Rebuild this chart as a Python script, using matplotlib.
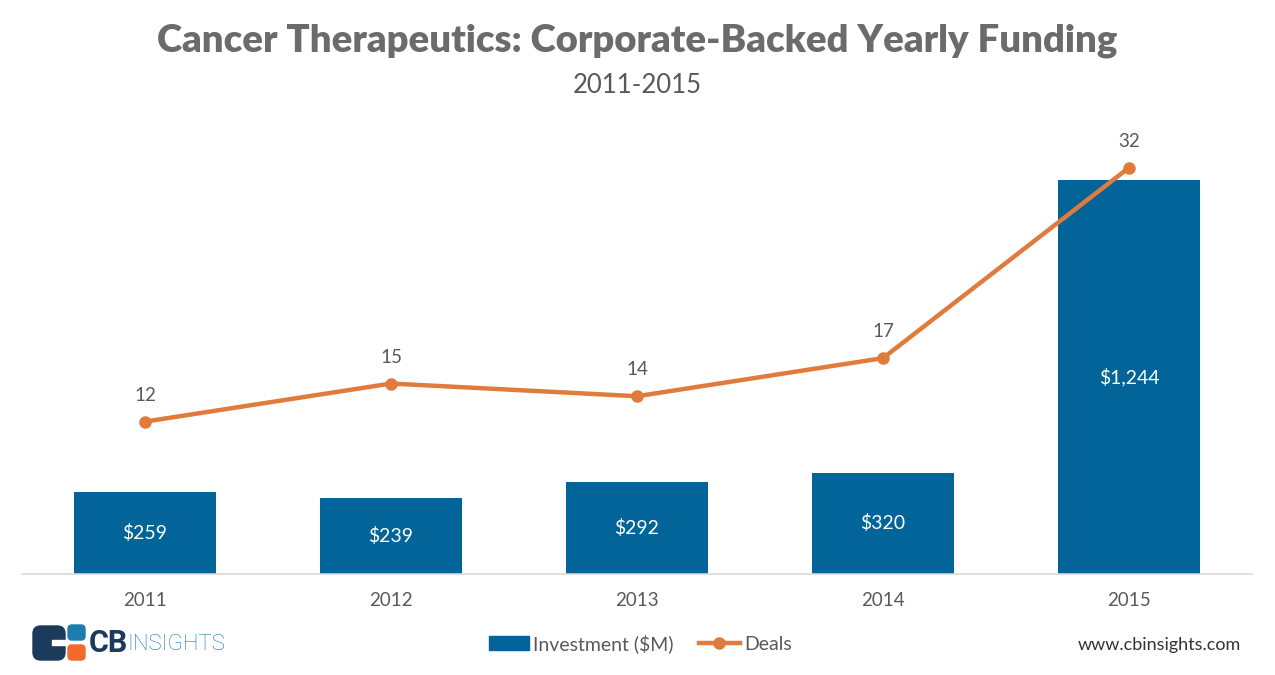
import matplotlib.pyplot as plt
from matplotlib.patches import FancyBboxPatch, Rectangle
from matplotlib.lines import Line2D
from matplotlib.patches import Patch

years = ['2011', '2012', '2013', '2014', '2015']
investment = [259, 239, 292, 320, 1244]
deals = [12, 15, 14, 17, 32]

BAR_COLOR = '#026498'
LINE_COLOR = '#E07B3C'
TEXT_GRAY = '#595959'
TITLE_GRAY = '#6B6B6B'

plt.rcParams['font.family'] = ['Lato', 'DejaVu Sans']

fig = plt.figure(figsize=(12.75, 6.75), dpi=100)
ax = fig.add_axes([0.01725, 0.1496, 0.9647, 0.6726])
ax2 = ax.twinx()

x = list(range(len(years)))
bars = ax.bar(x, investment, width=0.575, color=BAR_COLOR, zorder=2)
ax.set_xlim(-0.5, 4.5)
ax.set_ylim(0, 1434)
for xi, v in zip(x, investment):
    ax.text(xi, v / 2, f'${v:,}', ha='center', va='center', color='white', fontsize=14)

ax2.plot(x, deals, color=LINE_COLOR, linewidth=3.2, marker='o', markersize=8, zorder=3)
ax2.set_ylim(0, 35.75)
for xi, d in zip(x, deals):
    ax2.annotate(str(d), (xi, d), xytext=(0, 19), textcoords='offset points',
                 ha='center', va='center', color=TEXT_GRAY, fontsize=13.5)

for a in (ax, ax2):
    for s in ('top', 'right', 'left'):
        a.spines[s].set_visible(False)
    a.set_yticks([])
ax2.spines['bottom'].set_visible(False)
ax.spines['bottom'].set_color('#D9D9D9')
ax.spines['bottom'].set_linewidth(1.2)
ax.set_xticks(x)
ax.set_xticklabels(years, fontsize=13.5, color=TEXT_GRAY)
ax.tick_params(axis='x', length=0, pad=13)

fig.text(0.5, 0.94, 'Cancer Therapeutics: Corporate-Backed Yearly Funding',
         ha='center', va='center', fontsize=27.5, fontweight='heavy', color=TITLE_GRAY)
fig.text(0.5, 0.873, '2011-2015', ha='center', va='center', fontsize=18.5, color=TEXT_GRAY)

handles = [Patch(color=BAR_COLOR, label='Investment ($M)'),
           Line2D([0], [0], color=LINE_COLOR, linewidth=3.2, marker='o', markersize=8, label='Deals')]
fig.legend(handles=handles, loc='center', bbox_to_anchor=(0.502, 0.047), ncol=2, frameon=False,
           fontsize=14, labelcolor=TEXT_GRAY, handlelength=2.1, handletextpad=0.2, columnspacing=1.3)

fig.text(0.973, 0.044, 'www.cbinsights.com', ha='right', va='center', fontsize=13, color='#333333')

# logo
W, H = 1275, 675
def px(xp, yp):
    return xp / W, 1 - yp / H
lx, ly = px(33, 660)
fig.patches.append(FancyBboxPatch((lx, ly), 32 / W, 34 / H, boxstyle='round,pad=0,rounding_size=0.006',
                                  transform=fig.transFigure, color='#1B3A5C', mutation_aspect=W / H))
nx, ny = px(52, 645)
fig.patches.append(Rectangle((nx, ny), 14 / W, 5 / H, transform=fig.transFigure, color='white'))
bx, by = px(68, 640)
fig.patches.append(FancyBboxPatch((bx, by), 17 / W, 15 / H, boxstyle='round,pad=0,rounding_size=0.003',
                                  transform=fig.transFigure, color='#1E7CAF', mutation_aspect=W / H))
ox, oy = px(68, 660)
fig.patches.append(FancyBboxPatch((ox, oy), 17 / W, 15 / H, boxstyle='round,pad=0,rounding_size=0.003',
                                  transform=fig.transFigure, color='#F26B2B', mutation_aspect=W / H))
tx, ty = px(89, 643)
fig.text(tx, ty, 'CB', ha='left', va='center', fontsize=22, fontweight='bold', color='#1B3A5C',
         family=['Roboto', 'DejaVu Sans'])
tx, ty = px(127, 645)
fig.text(tx, ty, 'INSIGHTS', ha='left', va='center', fontsize=16, fontweight='light', color='#1E7CAF',
         family=['Roboto', 'DejaVu Sans'])

fig.savefig('out.png', dpi=100, facecolor='white')
